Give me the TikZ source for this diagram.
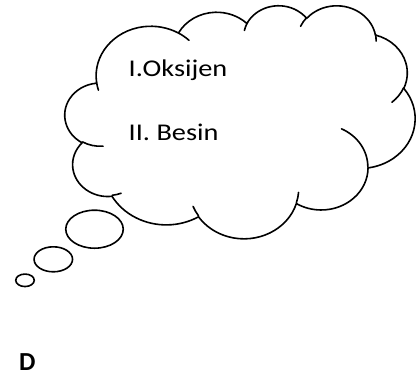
\documentclass[tikz,border=0pt]{standalone}
\usepackage{fontspec}
\setmainfont{Carlito}
\newfontfamily\widefont[FakeStretch=1.18]{Carlito}
\usepackage{tikz}
\usetikzlibrary{shapes.geometric}
\definecolor{inkBlack}{HTML}{000000}

\begin{document}
\begin{tikzpicture}[
  x=1pt, y=1pt, yscale=-1,
  outline/.style={draw=inkBlack, line width=1.6pt, line join=round, line cap=round},
  bubble/.style={ellipse, draw=inkBlack, line width=1.6pt, inner sep=0pt},
  lbl/.style={anchor=base west, inner sep=0pt, text=inkBlack, font=\widefont\fontsize{24}{29}\selectfont}
]
  \useasboundingbox (0,0) rectangle (419,381);

  % cloud in a 432 x 432 box: lobes as elliptic arcs (radii, start angle, sweep)
  \begin{scope}[shift={(65,5)}, xscale=350/432, yscale=233/432]
    \draw[outline] (39.00,143.70)
      \foreach \wr/\hr/\st/\sw [evaluate={\st as \ta using atan2(\wr*sin(\st),\hr*cos(\st))},
                                evaluate={\sw as \da using mod(atan2(\wr*sin(\st+\sw),\hr*cos(\st+\sw))-atan2(\wr*sin(\st),\hr*cos(\st))+720,360)}]
        in {67.53/91.90/-190.49/123.78, 53.33/72.67/-144.10/89.95, 43.65/59.45/-145.81/99.72,
            48.57/65.95/-130.99/117.24, 53.33/72.73/-78.71/109.03, 67.75/92.20/-46.27/130.27,
            57.85/78.67/0.63/114.03, 67.52/92.15/22.45/115.17, 77.20/105.43/66.24/75.71,
            43.60/59.18/-274.94/146.74, 43.45/59.45/-246.83/152.52}
        { arc[x radius=\wr, y radius=\hr, start angle=\ta, delta angle=\da] } -- cycle;

    % short inner arcs where the lobes overlap
    \foreach \px/\py/\wr/\hr/\st/\sw [evaluate={\st as \ta using atan2(\wr*sin(\st),\hr*cos(\st))},
                                      evaluate={\sw as \da using mod(atan2(\wr*sin(\st+\sw),\hr*cos(\st+\sw))-atan2(\wr*sin(\st),\hr*cos(\st))+720,360)}]
      in {46.93/261.77/43.45/59.45/86.74/26.43, 69.28/348.99/43.60/59.18/73.61/11.45,
          164.78/390.90/67.52/92.15/137.62/14.08, 288.27/347.51/67.52/92.15/6.45/16.00,
          341.29/229.54/57.85/78.67/-70.29/70.92, 417.98/153.54/53.33/72.73/30.32/27.75,
          383.24/54.26/48.57/65.95/-13.74/14.86, 290.78/39.52/48.57/65.95/-149.18/18.20,
          221.41/47.20/43.65/59.45/-163.49/17.69, 140.00/51.92/67.53/91.90/-66.71/12.32,
          41.27/157.89/67.53/91.90/157.65/11.86}
      \draw[outline] (\px,\py) arc[x radius=\wr, y radius=\hr, start angle=\ta, delta angle=\da];
  \end{scope}

  % thought bubbles
  \node[bubble, minimum width=57.5pt, minimum height=38pt] (bubbleL) at (94.5,229.2) {};
  \node[bubble, minimum width=38.5pt, minimum height=25pt] (bubbleM) at (53.3,259.3) {};
  \node[bubble, minimum width=18.5pt, minimum height=12.5pt] (bubbleS) at (25,280.3) {};

  \node[lbl] (oksijen) at (128.5,76.5) {I.Oksijen};
  \node[lbl] (besin) at (128.5,140.5) {II. Besin};
  \node[lbl, font=\bfseries\fontsize{26}{31}\selectfont] (optD) at (18.8,370) {D};
\end{tikzpicture}
\end{document}
